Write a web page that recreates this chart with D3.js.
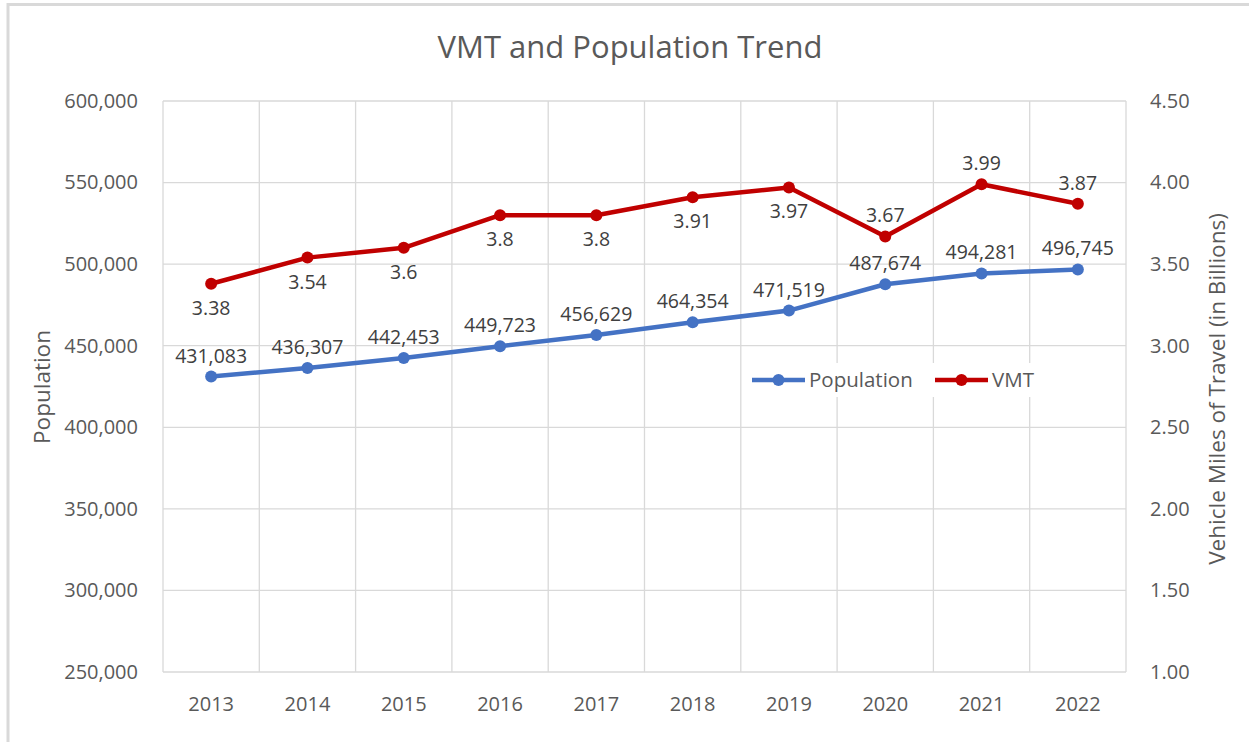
<!DOCTYPE html>
<html><head><meta charset="utf-8">
<script src="https://cdn.jsdelivr.net/npm/d3@7"></script>
<style>body{margin:0;background:#fff;}svg{display:block;font-family:"Open Sans",sans-serif;}</style>
</head><body><svg id="c" width="1249" height="742"></svg>
<script>
const years = ["2013","2014","2015","2016","2017","2018","2019","2020","2021","2022"];
const population = [431083,436307,442453,449723,456629,464354,471519,487674,494281,496745];
const vmt = [3.38,3.54,3.6,3.8,3.8,3.91,3.97,3.67,3.99,3.87];
const vmtLabelPos = ["below","below","below","below","below","below","below","above","above","above"];
const leftTicks = [250000,300000,350000,400000,450000,500000,550000,600000];
const rightTicks = [1.0,1.5,2.0,2.5,3.0,3.5,4.0,4.5];

const svg = d3.select("#c");
const m = {l:163, r:1126, t:101, b:672};
const blue = "#4472C4", red = "#C00000", txt = "#595959", grid = "#d9d9d9", lab = "#404040";
const F = '"Open Sans",sans-serif';

svg.append("rect").attr("x",8).attr("y",4.5).attr("width",1260).attr("height",760)
  .attr("fill","#fff").attr("stroke","#d9d9d9").attr("stroke-width",3);

const x = d3.scaleBand().domain(years).range([m.l,m.r]);
const yL = d3.scaleLinear().domain([250000,600000]).range([m.b,m.t]);
const yR = d3.scaleLinear().domain([1,4.5]).range([m.b,m.t]);

// gridlines
const gH = svg.append("g");
leftTicks.forEach(t=>gH.append("line").attr("x1",m.l).attr("x2",m.r).attr("y1",yL(t)).attr("y2",yL(t)).attr("stroke",grid).attr("stroke-width",1.3));
const vx = years.map(y=>x(y)).concat([m.r]);
vx.forEach(v=>gH.append("line").attr("x1",v).attr("x2",v).attr("y1",m.t).attr("y2",m.b).attr("stroke",grid).attr("stroke-width",1.3));

// axes
const axL = d3.axisLeft(yL).tickValues(leftTicks).tickFormat(d3.format(",")).tickSize(0).tickPadding(25);
const gL = svg.append("g").attr("transform",`translate(${m.l},0)`).call(axL);
const axR = d3.axisRight(yR).tickValues(rightTicks).tickFormat(d3.format(".2f")).tickSize(0).tickPadding(24);
const gR = svg.append("g").attr("transform",`translate(${m.r},0)`).call(axR);
const axB = d3.axisBottom(x).tickSize(0).tickPadding(25);
const gB = svg.append("g").attr("transform",`translate(0,${m.b})`).call(axB);
[gL,gR,gB].forEach(g=>{g.select(".domain").remove();g.selectAll("text").attr("fill",txt).style("font-size","20px").style("font-family",F);});

// title
svg.append("text").attr("x",630).attr("y",58).attr("text-anchor","middle").attr("fill",txt)
  .style("font-size","31px").text("VMT and Population Trend");
svg.append("text").attr("transform","translate(50,387) rotate(-90)").attr("text-anchor","middle").attr("fill",txt)
  .style("font-size","22.5px").text("Population");
svg.append("text").attr("transform","translate(1225,389) rotate(-90)").attr("text-anchor","middle").attr("fill",txt)
  .style("font-size","22.5px").text("Vehicle Miles of Travel (in Billions)");

const cx = d=>x(d)+x.bandwidth()/2;
// lines
const lineP = d3.line().x((d,i)=>cx(years[i])).y(d=>yL(d));
const lineV = d3.line().x((d,i)=>cx(years[i])).y(d=>yR(d));
svg.append("path").attr("d",lineP(population)).attr("fill","none").attr("stroke",blue).attr("stroke-width",4.5).attr("stroke-linejoin","round");
svg.append("path").attr("d",lineV(vmt)).attr("fill","none").attr("stroke",red).attr("stroke-width",4.5).attr("stroke-linejoin","round");
svg.selectAll(".pp").data(population).enter().append("circle").attr("cx",(d,i)=>cx(years[i])).attr("cy",d=>yL(d)).attr("r",6).attr("fill",blue);
svg.selectAll(".vp").data(vmt).enter().append("circle").attr("cx",(d,i)=>cx(years[i])).attr("cy",d=>yR(d)).attr("r",6).attr("fill",red);

// labels
svg.selectAll(".pl").data(population).enter().append("text").attr("x",(d,i)=>cx(years[i])).attr("y",d=>yL(d)-14)
  .attr("text-anchor","middle").attr("fill",lab).style("font-size","19.5px").text(d=>d3.format(",")(d));
svg.selectAll(".vl").data(vmt).enter().append("text").attr("x",(d,i)=>cx(years[i]))
  .attr("y",(d,i)=>vmtLabelPos[i]==="below"? yR(d)+31 : yR(d)-14)
  .attr("text-anchor","middle").attr("fill",lab).style("font-size","19.5px").text(d=>String(d));

// legend
const lg = svg.append("g");
lg.append("rect").attr("x",742).attr("y",363).attr("width",300).attr("height",34).attr("fill","#fff");
[[blue,"Population",752],[red,"VMT",935]].forEach(([c,t,x0])=>{
  lg.append("line").attr("x1",x0).attr("x2",x0+53).attr("y1",380).attr("y2",380).attr("stroke",c).attr("stroke-width",4.5);
  lg.append("circle").attr("cx",x0+26.5).attr("cy",380).attr("r",6).attr("fill",c);
  lg.append("text").attr("x",x0+57).attr("y",387).attr("fill",txt).style("font-size","20.5px").text(t);
});
</script></body></html>
